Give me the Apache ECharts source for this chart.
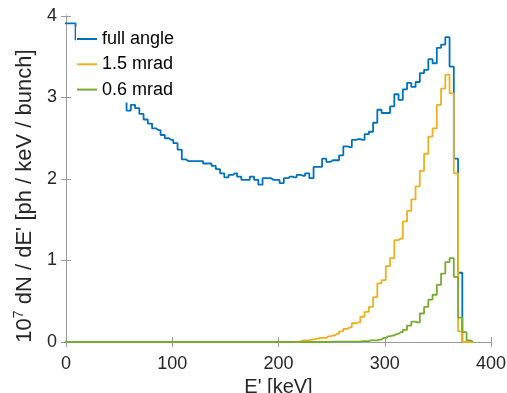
<!DOCTYPE html>
<html><head><meta charset="utf-8">
<script src="https://cdn.jsdelivr.net/npm/echarts@6/dist/echarts.min.js"></script>
<style>html,body{margin:0;padding:0;background:#fff}#c{width:507px;height:393px}</style>
</head><body><div id="c"></div>
<script>
// histogram bins: 4 keV wide
const binWidth = 4;
const firstCenter = -1;
const seriesNames = ['full angle', '1.5 mrad', '0.6 mrad'];
const xTicks = [0, 100, 200, 300, 400];
const yTicks = [0, 1, 2, 3, 4];

const fullAngle = [
 3.91,3.91,3.91,3.71,3.64,3.57,3.50,3.44,3.38,3.32,
 3.26,3.20,3.14,3.08,3.02,2.84,2.91,2.87,2.80,2.73,
 2.68,2.62,2.60,2.54,2.50,2.48,2.44,2.36,2.24,2.22,
 2.22,2.22,2.22,2.19,2.19,2.16,2.12,2.07,2.02,2.05,
 2.07,2.03,1.99,1.99,2.03,1.99,1.93,2.01,2.01,1.99,
 1.99,1.95,2.01,2.03,2.02,2.05,2.04,2.07,2.01,2.15,
 2.15,2.25,2.21,2.23,2.23,2.29,2.40,2.39,2.48,2.49,
 2.48,2.55,2.58,2.69,2.85,2.81,2.81,2.89,3.04,2.97,
 3.10,3.18,3.13,3.19,3.30,3.34,3.47,3.42,3.61,3.65,
 3.74,3.38,2.25,0.85,0,0,0
];
const mrad15 = [
 0,0,0,0,0,0,0,0,0,0,
 0,0,0,0,0,0,0,0,0,0,
 0,0,0,0,0,0,0,0,0,0,
 0,0,0,0,0,0,0,0,0,0,
 0,0,0,0,0,0,0,0,0,0,
 0,0,0,0,0,0.005,0.02,0.02,0.03,0.04,
 0.05,0.05,0.07,0.08,0.10,0.13,0.16,0.18,0.23,0.24,
 0.31,0.37,0.43,0.55,0.72,0.76,0.93,1.03,1.25,1.27,
 1.48,1.61,1.75,1.91,2.10,2.31,2.52,2.62,2.91,3.11,
 3.28,3.05,2.07,0.13,0,0,0
];
const mrad06 = [
 0,0,0,0,0,0,0,0,0,0,
 0,0,0,0,0,0,0,0,0,0,
 0,0,0,0,0,0,0,0,0,0,
 0,0,0,0,0,0,0,0,0,0,
 0,0,0,0,0,0,0,0,0,0,
 0,0,0,0,0,0,0,0,0,0,
 0,0,0,0.005,0.005,0.005,0.005,0.005,0.005,0.005,
 0.01,0.01,0.02,0.02,0.03,0.05,0.07,0.08,0.10,0.12,
 0.15,0.20,0.25,0.24,0.35,0.43,0.52,0.58,0.70,0.84,
 0.98,1.03,0.80,0.30,0.12,0.02,0
];

const centers = fullAngle.map((_, i) => firstCenter + i * binWidth);
const toPts = arr => arr.map((v, i) => [centers[i], v]);

const FONT = "'Liberation Sans', Arial, Helvetica, sans-serif";
const FRAME = '#9a9a9a';
const TXT = '#262626';
const colors = ['#0072BD', '#EDB120', '#77AC30'];

const frameAxis = (extra) => Object.assign({
  type: 'value',
  axisLine: { show: true, lineStyle: { color: FRAME, width: 1 } },
  axisTick: { show: true, inside: true, length: 5, lineStyle: { color: FRAME } },
  splitLine: { show: false },
}, extra);

const chart = echarts.init(document.getElementById('c'), null, { renderer: 'canvas' });
chart.setOption({
  animation: false,
  backgroundColor: '#fff',
  textStyle: { fontFamily: FONT },
  grid: { left: 66, right: 16, top: 16, bottom: 51, containLabel: false, outerBoundsMode: 'none' },
  xAxis: [
    frameAxis({
      min: xTicks[0], max: xTicks[xTicks.length - 1], interval: xTicks[1] - xTicks[0],
      position: 'bottom',
      axisLabel: { fontSize: 18, color: TXT, margin: 13, fontFamily: FONT },
      name: "E' [keV]", nameLocation: 'middle', nameGap: 28,
      nameTextStyle: { fontSize: 20, color: TXT, fontFamily: FONT }
    }),
    frameAxis({
      min: xTicks[0], max: xTicks[xTicks.length - 1], interval: xTicks[1] - xTicks[0],
      position: 'top', axisLabel: { show: false }
    })
  ],
  yAxis: [
    frameAxis({
      min: yTicks[0], max: yTicks[yTicks.length - 1], interval: yTicks[1] - yTicks[0],
      position: 'left',
      axisLabel: { fontSize: 18, color: TXT, margin: 9, fontFamily: FONT },
      name: "{a|10}{s|7}{a| dN / dE' [ph / keV / bunch]}",
      nameLocation: 'middle', nameRotate: 90, nameGap: 22,
      nameTextStyle: {
        color: TXT, fontFamily: FONT, fontSize: 22,
        padding: [0, 34, 0, 0],
        rich: {
          a: { fontSize: 22, lineHeight: 26, color: TXT, fontFamily: FONT },
          s: { fontSize: 14, lineHeight: 14, verticalAlign: 'top', color: TXT, fontFamily: FONT }
        }
      }
    }),
    frameAxis({
      min: yTicks[0], max: yTicks[yTicks.length - 1], interval: yTicks[1] - yTicks[0],
      position: 'right', axisLabel: { show: false }
    })
  ],
  legend: {
    show: true, orient: 'vertical', left: 76, top: 27,
    padding: [2, 4, 3, 1],
    icon: 'rect',
    itemWidth: 20, itemHeight: 2, itemGap: 5.3,
    backgroundColor: '#fff',
    textStyle: { fontSize: 18, color: '#000', lineHeight: 20, fontFamily: FONT },
    data: seriesNames
  },
  series: [fullAngle, mrad15, mrad06].map((arr, i) => ({
    name: seriesNames[i],
    type: 'line',
    step: 'middle',
    symbol: 'none',
    xAxisIndex: 0, yAxisIndex: 0,
    data: toPts(arr),
    lineStyle: { width: 1.8, color: colors[i] },
    itemStyle: { color: colors[i] },
    clip: true
  }))
});
</script>
</body></html>
